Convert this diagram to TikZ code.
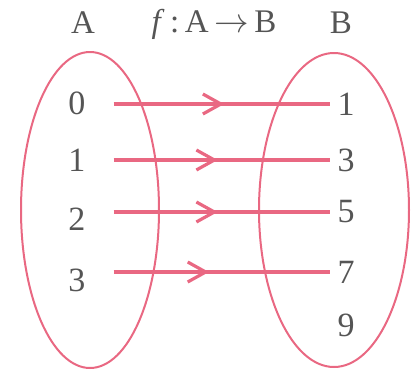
\documentclass[tikz,border=0pt]{standalone}
\usepackage{fontspec}
\setmainfont{Liberation Serif}
\usetikzlibrary{arrows.meta}
\usetikzlibrary{decorations.markings}
\definecolor{setpink}{RGB}{233,104,130}
\definecolor{labelgray}{RGB}{85,85,85}

\begin{document}
\begin{tikzpicture}[x=0.5pt, y=-0.5pt,
  elt/.style={text=labelgray, font=\fontsize{17}{20}\selectfont},
  ttl/.style={text=labelgray, font=\fontsize{16.5}{19}\selectfont},
  setring/.style={setpink, line width=1pt},
  mapline/.style={setpink, line width=1.6pt, postaction={decorate},
    decoration={markings,
      mark=at position #1 with {\arrow{Straight Barb[length=9pt,width=10pt]}}}}]
\useasboundingbox (0,0) rectangle (413,376);
\def\ringy{210}

% the two sets
\draw[setring] (90,\ringy) ellipse [x radius=69, y radius=158];
\draw[setring] (334,\ringy) ellipse [x radius=75, y radius=157];

\node[ttl] (titleA) at (83,23) {A};
\node[ttl] (titlemap) at (214,24) {\textit{f}\,:\,A\,$\to$\,B};
\node[ttl] (titleB) at (341,23) {B};

% elements
\foreach \lab/\ypos [count=\i from 0] in {0/103,1/160,2/219,3/280}
  \node[elt] (a\i) at (77,\ypos) {\lab};
\foreach \lab/\ypos [count=\i from 0] in {1/104,3/160,5/212,7/272,9/325}
  \node[elt] (b\i) at (346,\ypos) {\lab};

% the map
\foreach \i/\pos in {0/0.51,1/0.48,2/0.48,3/0.44}
  \draw[mapline=\pos] ([xshift=10.5pt]a\i.east |- b\i.west) -- (b\i.west);
\end{tikzpicture}
\end{document}
